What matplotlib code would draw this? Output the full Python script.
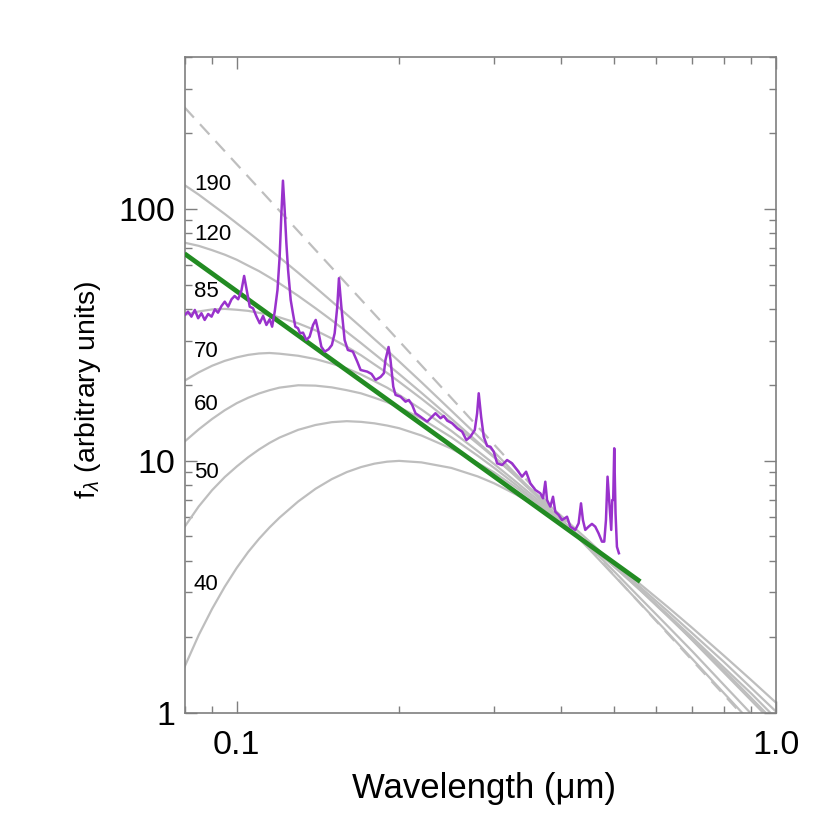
import matplotlib
matplotlib.use('Agg')
import matplotlib.pyplot as plt
from matplotlib.ticker import FixedLocator, FixedFormatter, LogLocator, NullFormatter

plt.rcParams['font.family'] = ['Liberation Sans', 'DejaVu Sans']
plt.rcParams['mathtext.fontset'] = 'custom'
plt.rcParams['mathtext.rm'] = 'Liberation Sans'
plt.rcParams['mathtext.it'] = 'Liberation Sans:italic'
plt.rcParams['lines.scale_dashes'] = False

# ---------------- data ----------------
wl_grid = [0.08, 0.085, 0.09, 0.095, 0.10, 0.105, 0.11, 0.115, 0.12, 0.13,
           0.14, 0.15, 0.16, 0.17, 0.18, 0.19, 0.20, 0.22, 0.25, 0.28,
           0.30, 0.33, 0.36, 0.40, 0.45, 0.50, 0.56, 0.63, 0.70, 0.80,
           0.90, 1.00]

disk_190 = [124.3, 113.9, 104.0, 95.45, 87.64, 80.83, 74.65, 69.11, 64.19, 55.75,
            48.74, 42.91, 38.04, 33.93, 30.38, 27.42, 24.80, 20.50, 15.79, 12.53,
            10.84, 8.799, 7.273, 5.777, 4.461, 3.510, 2.713, 2.075, 1.629, 1.196,
            0.9110, 0.7139]
disk_120 = [73.42, 71.30, 68.55, 65.78, 62.79, 59.49, 56.57, 53.46, 50.60, 45.13,
            40.30, 36.12, 32.44, 29.31, 26.55, 24.19, 22.10, 18.61, 14.69, 11.84,
            10.38, 8.616, 7.221, 5.825, 4.584, 3.650, 2.847, 2.202, 1.747, 1.289,
            0.9872, 0.7771]
disk_85 = [37.90, 39.14, 39.86, 40.06, 39.75, 39.35, 38.64, 37.93, 37.08, 35.10,
           32.92, 30.57, 28.34, 26.22, 24.12, 22.32, 20.58, 17.63, 14.21, 11.66,
           10.31, 8.667, 7.362, 6.026, 4.799, 3.886, 3.083, 2.426, 1.932, 1.443,
           1.115, 0.8847]
disk_70 = [20.77, 22.42, 23.82, 24.91, 25.72, 26.31, 26.65, 26.77, 26.60, 26.10,
           25.32, 24.30, 23.24, 22.00, 20.69, 19.50, 18.25, 15.98, 13.13, 10.90,
           9.703, 8.222, 7.045, 5.814, 4.660, 3.811, 3.057, 2.408, 1.943, 1.475,
           1.140, 0.9060]
disk_60 = [11.90, 13.31, 14.64, 15.86, 16.92, 17.78, 18.49, 19.05, 19.50, 19.93,
           19.86, 19.55, 19.05, 18.51, 17.78, 17.07, 16.30, 14.69, 12.39, 10.45,
           9.371, 8.000, 6.893, 5.730, 4.634, 3.811, 3.074, 2.448, 1.984, 1.510,
           1.189, 0.9467]
disk_50 = [5.454, 6.578, 7.636, 8.608, 9.484, 10.32, 11.08, 11.76, 12.35, 13.26,
           13.86, 14.22, 14.35, 14.26, 14.07, 13.79, 13.46, 12.59, 11.17, 9.775,
           8.989, 7.806, 6.799, 5.707, 4.665, 3.871, 3.148, 2.523, 2.061, 1.590,
           1.251, 1.009]
disk_40 = [1.516, 2.029, 2.579, 3.159, 3.753, 4.340, 4.896, 5.429, 5.937, 6.887,
           7.734, 8.445, 9.011, 9.432, 9.730, 9.909, 9.982, 9.845, 9.359, 8.655,
           8.134, 7.328, 6.555, 5.636, 4.677, 3.929, 3.232, 2.624, 2.164, 1.684,
           1.344, 1.094]

disk_curves = [disk_190, disk_120, disk_85, disk_70, disk_60, disk_50, disk_40]
disk_labels = ['190', '120', '85', '70', '60', '50', '40']

limit_wl = [0.08, 1.0]
limit_flux = [253.0, 0.70]

powerlaw_wl = [0.08, 0.56]
powerlaw_flux = [66.4, 3.31]

spec_wl = [0.0801, 0.0812, 0.0824, 0.0836, 0.0848, 0.0860, 0.0872, 0.0885, 0.0898, 0.0911,
           0.0923, 0.0937, 0.0950, 0.0964, 0.0978, 0.0991, 0.1006, 0.1020, 0.1032, 0.1042,
           0.1057, 0.1072, 0.1088, 0.1103, 0.1119, 0.1135, 0.1151, 0.1163, 0.1176, 0.1190,
           0.1201, 0.1210, 0.1218, 0.1227, 0.1236, 0.1245, 0.1259, 0.1271, 0.1284, 0.1299,
           0.1310, 0.1327, 0.1346, 0.1365, 0.1385, 0.1401, 0.1415, 0.1435, 0.1456, 0.1480,
           0.1501, 0.1519, 0.1536, 0.1547, 0.1563, 0.1585, 0.1607, 0.1642, 0.1673, 0.1697,
           0.1746, 0.1778, 0.1809, 0.1848, 0.1874, 0.1887, 0.1912, 0.1928, 0.1951, 0.1970,
           0.2012, 0.2056, 0.2085, 0.2115, 0.2145, 0.2191, 0.2255, 0.2287, 0.2336, 0.2387,
           0.2420, 0.2456, 0.2508, 0.2563, 0.2618, 0.2666, 0.2712, 0.2763, 0.2791, 0.2810,
           0.2839, 0.2871, 0.2913, 0.2954, 0.2996, 0.3040, 0.3105, 0.3172, 0.3240, 0.3310,
           0.3381, 0.3440, 0.3503, 0.3579, 0.3656, 0.3698, 0.3734, 0.3762, 0.3815, 0.3859,
           0.3897, 0.3953, 0.4010, 0.4097, 0.4155, 0.4245, 0.4305, 0.4349, 0.4385, 0.4429,
           0.4492, 0.4557, 0.4622, 0.4687, 0.4756, 0.4803, 0.4838, 0.4871, 0.4913, 0.4948,
           0.4970, 0.4990, 0.5012, 0.5040, 0.5070, 0.5113]
spec_flux = [37.90, 39.06, 37.32, 39.68, 36.78, 38.50, 36.22, 38.25, 37.32, 39.93,
             38.71, 41.15, 42.80, 40.89, 43.75, 45.09, 43.75, 47.33, 54.15, 48.39,
             40.89, 40.30, 37.32, 35.13, 37.56, 34.59, 36.45, 34.06, 39.06, 47.64,
             64.59, 96.05, 129.4, 99.0, 73.03, 57.20, 43.47, 38.50, 34.06, 33.56,
             32.06, 32.24, 30.15, 31.08, 34.59, 36.22, 33.04, 28.36, 27.10, 27.70,
             28.80, 32.06, 40.89, 53.02, 40.89, 30.15, 27.52, 27.10, 24.73, 22.92,
             22.57, 22.10, 20.92, 21.50, 22.24, 25.11, 28.28, 25.11, 19.67, 18.24,
             17.96, 17.15, 17.42, 16.64, 15.43, 14.95, 14.29, 14.74, 15.43, 14.74,
             15.05, 14.42, 14.08, 13.45, 13.04, 12.08, 12.45, 13.24, 15.43, 18.52,
             14.95, 12.45, 11.44, 11.36, 10.86, 9.76, 9.61, 10.06, 9.76, 9.19,
             8.64, 9.04, 8.13, 7.65, 7.42, 7.09, 8.25, 6.98, 6.57, 7.19,
             6.27, 6.09, 5.81, 5.99, 5.47, 5.31, 5.64, 6.77, 5.81, 5.31,
             5.47, 5.61, 5.47, 5.15, 4.77, 4.77, 5.81, 8.64, 6.57, 5.31,
             6.98, 6.98, 11.20, 6.18, 4.55, 4.29]

x_ticks = [0.1, 1.0]
x_ticklabels = ['0.1', '1.0']
y_ticks = [1, 10, 100]
y_ticklabels = ['1', '10', '100']

# ---------------- style ----------------
W, H = 830, 830
fig = plt.figure(figsize=(W / 100, H / 100), dpi=100)
left, right, top, bottom = 184.5, 776.0, 56.7, 712.5
ax = fig.add_axes([left / W, 1 - bottom / H, (right - left) / W, (bottom - top) / H])
ax.set_xscale('log')
ax.set_yscale('log')
ax.set_xlim(0.08, 1.0)
ax.set_ylim(1, 402)

gray = '#bebebe'
for curve in disk_curves:
    ax.plot(wl_grid, curve, color=gray, lw=1.6, solid_joinstyle='round', zorder=2)
ax.plot(limit_wl, limit_flux, color=gray, lw=1.6, linestyle=(0, (10, 6.5)), zorder=2)
ax.plot(powerlaw_wl, powerlaw_flux, color='#228b22', lw=3.4, solid_capstyle='butt', zorder=3)
ax.plot(spec_wl, spec_flux, color='#9932cc', lw=1.8, solid_joinstyle='round', zorder=4)

label_y = [0.7967, 0.7205, 0.6340, 0.5426, 0.4613, 0.3571, 0.1868]
for txt, yy in zip(disk_labels, label_y):
    ax.text(0.016, yy, txt, transform=ax.transAxes, fontsize=16,
            ha='left', va='baseline', color='black', zorder=5)

spine_col = '#7f7f7f'
for sp in ax.spines.values():
    sp.set_color(spine_col)
    sp.set_linewidth(1.2)

ax.xaxis.set_major_locator(FixedLocator(x_ticks))
ax.xaxis.set_major_formatter(FixedFormatter(x_ticklabels))
ax.xaxis.set_minor_locator(LogLocator(base=10, subs=[2, 3, 4, 5, 6, 7, 8, 9]))
ax.xaxis.set_minor_formatter(NullFormatter())
ax.yaxis.set_major_locator(FixedLocator(y_ticks))
ax.yaxis.set_major_formatter(FixedFormatter(y_ticklabels))
ax.yaxis.set_minor_locator(LogLocator(base=10, subs=[2, 3, 4, 5, 6, 7, 8, 9]))
ax.yaxis.set_minor_formatter(NullFormatter())

ax.tick_params(which='both', direction='in', top=True, right=True,
               color=spine_col, width=1.0)
ax.tick_params(which='major', length=8.6, labelsize=24.5)
ax.tick_params(which='minor', length=4.7)
ax.tick_params(axis='x', which='major', pad=12.5)
ax.tick_params(axis='y', which='major', pad=7)

ax.set_xlabel('Wavelength (\u03bcm)', fontsize=25)
ax.set_ylabel(r'f$_\lambda$ (arbitrary units)', fontsize=20.5)
ax.xaxis.set_label_coords(0.506, -0.116)
ax.yaxis.set_label_coords(-0.163, 0.492)
ax.xaxis.label.set_va('center')
ax.yaxis.label.set_va('center')

fig.savefig('out.png', dpi=100)
